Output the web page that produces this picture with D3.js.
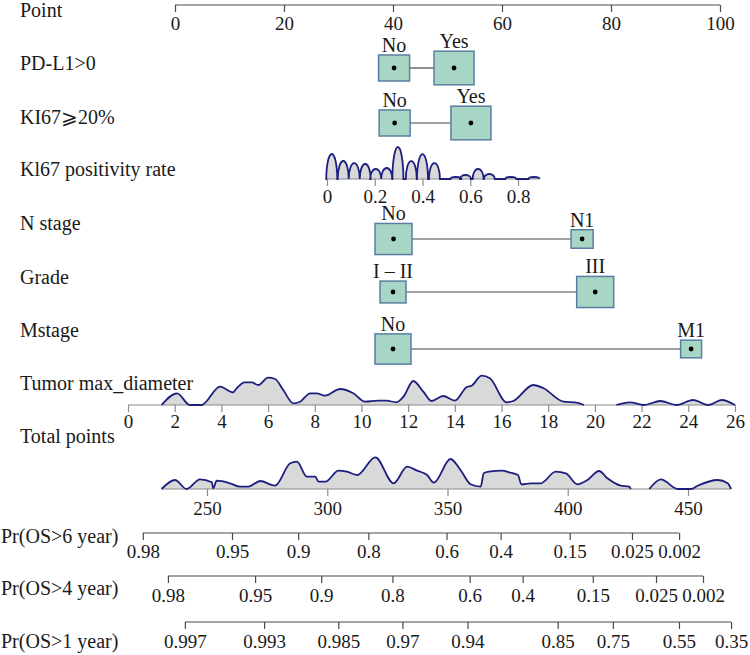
<!DOCTYPE html>
<html>
<head>
<meta charset="utf-8">
<script src="https://cdn.jsdelivr.net/npm/d3@7"></script>
<style>
  html, body { margin: 0; padding: 0; background: #ffffff; }
  svg { display: block; }
  svg text { font-family: "Liberation Serif", "Times New Roman", Tinos, Times, "Nimbus Roman", "DejaVu Serif", serif !important; fill: #1a1a1a; }
</style>
</head>
<body>
<svg id="chart" width="750" height="655"></svg>
<script>
// ---------------- DATA ----------------
const pointTicks = [0, 20, 40, 60, 80, 100];

// categorical predictors: level labels, points, relative frequency (box size)
const pdl1Levels = ["No", "Yes"];
const pdl1Points = [40.2, 51.2];
const pdl1Freq   = [0.375, 0.625];

const ki67CatLevels = ["No", "Yes"];
const ki67CatPoints = [40.3, 54.3];
const ki67CatFreq   = [0.375, 0.625];

const nLevels = ["No", "N1"];
const nPoints = [40.1, 74.7];
const nFreq   = [0.535, 0.189];

const gradeLevels = ["I – II", "III"];
const gradePoints = [40.0, 77.1];
const gradeFreq   = [0.264, 0.535];

const mLevels = ["No", "M1"];
const mPoints = [40.0, 94.7];
const mFreq   = [0.506, 0.172];

// Ki67 positivity rate: axis ticks and density humps (centre value, relative height)
const ki67Ticks   = [0, 0.2, 0.4, 0.6, 0.8];
const ki67Centers = [0.02, 0.068, 0.114, 0.16, 0.204, 0.25, 0.297, 0.353, 0.40, 0.45, 0.54, 0.58, 0.633, 0.68, 0.77, 0.867];
const ki67Heights = [25, 18, 16, 15, 10, 11, 32, 18, 25, 16, 2, 4, 10, 5, 2, 2];

// Tumor max diameter: axis ticks and density outline (value, relative height)
const tumorTicks = [0, 2, 4, 6, 8, 10, 12, 14, 16, 18, 20, 22, 24, 26];
const tumorDensityA = [
  [1.44, 0], [2.1, 11.7], [2.65, 0], [3.15, 0], [3.94, 18.3], [4.5, 12.7], [4.65, 16.7],
  [5.0, 22.7], [5.3, 22.7], [5.58, 20], [6.0, 27.3], [6.3, 26], [6.65, 15], [7.08, 1.7],
  [7.37, 3.3], [7.8, 11.7], [8.08, 11.7], [8.44, 9.3], [9.08, 16], [9.65, 11.7], [10.15, 3.3],
  [10.72, 4.3], [11.08, 4.3], [11.5, 2.7], [11.8, 8.3], [12.22, 24], [12.65, 13.3], [13.0, 4],
  [13.5, 9], [14.0, 4.3], [14.5, 17.7], [14.72, 19.3], [15.15, 29.3], [15.5, 26.7],
  [16.22, 2.7], [16.5, 4], [17.36, 20], [17.8, 16.7], [18.65, 3.3], [19.22, 2.3], [19.53, 0]
];
const tumorDensityB = [
  [20.92, 0], [21.5, 2.7], [22.1, 0], [22.8, 4], [23.5, 0], [24.2, 5], [24.86, 0], [25.43, 5], [26.0, 0]
];

// Total points: axis ticks and density outline (total points, relative height)
const totalTicks = [250, 300, 350, 400, 450];
const totalDensityA = [
  [231.1, 0], [236.7, 9], [241.5, 0], [247.1, 9.7], [252.0, 6.7], [252.6, 0.7], [254.0, 8.3],
  [259.6, 5.7], [263.75, 2.3], [267.2, 2.3], [272.1, 8], [278.3, 3.3], [284.6, 25.7],
  [287.4, 27.3], [291.5, 12.3], [295.0, 12.3], [296.4, 7.3], [299.2, 7.3], [304.7, 18.3],
  [308.2, 17.3], [312.4, 14], [320.0, 31.7], [327.6, 5.7], [333.2, 22.3], [337.4, 18.3],
  [341.5, 14], [344.3, 6.3], [351.25, 30], [355.4, 19], [359.6, 4.7], [363.75, 2.3],
  [365.1, 15.7], [367.2, 17.3], [372.8, 18.3], [375.5, 16.7], [379.3, 14], [380.7, 4.7],
  [384.6, 5.7], [388.75, 5.7], [395.0, 17.3], [399.2, 15.7], [404.0, 4.7], [408.2, 9],
  [413.0, 18], [416.5, 10.7], [422.0, 3.3], [425.5, 2.3], [426.25, 0]
];
const totalDensityB = [
  [433.9, 0], [438.75, 9.7], [445.7, 0], [451.25, 0], [454.0, 3.3], [462.4, 9], [466.5, 5.7], [467.9, 0]
];

// Survival probability scales: label and matching total points
const os6Labels = ["0.98", "0.95", "0.9", "0.8", "0.6", "0.4", "0.15", "0.025", "0.002"];
const os6Points = [223.3, 260.4, 287.9, 317.1, 349.6, 372.1, 400.8, 426.7, 446.3];
const os4Labels = ["0.98", "0.95", "0.9", "0.8", "0.6", "0.4", "0.15", "0.025", "0.002"];
const os4Points = [233.75, 270.0, 297.5, 327.1, 359.2, 381.25, 410.4, 436.7, 456.25];
const os1Labels = ["0.997", "0.993", "0.985", "0.97", "0.94", "0.85", "0.75", "0.55", "0.35"];
const os1Points = [240.8, 273.75, 304.6, 331.25, 358.3, 395.8, 418.75, 446.25, 467.9];

// ---------------- LAYOUT / STYLE ----------------
const FS = 20;      // row labels
const TFS = 19;     // tick / level labels
const svg = d3.select("#chart");
const pointX = d3.scaleLinear().domain([0, 100]).range([175, 720]);
const ki67X  = d3.scaleLinear().domain([0, 0.8]).range([327, 518]);
const tumorX = d3.scaleLinear().domain([0, 26]).range([128, 735]);
const totalX = d3.scaleLinear().domain([250, 450]).range([207, 688]);
const densY  = d3.scaleLinear().domain([0, 32]).range([0, 32]);
const boxW   = d3.scaleSqrt().domain([0, 1]).range([0, 50.6]);

const boxFill = "#a7d6c5", boxStroke = "#5a7ea3";
const densFill = "#d9d9d9", densStroke = "#1c1f7e";
const axisDark = "#4a4a4a", axisGrey = "#8c8c8c";

// Row labels
const rowLabels = [
  ["Point", 20, 17], ["PD-L1>0", 20, 70], ["KI67⩾20%", 20, 124],
  ["Kl67 positivity rate", 20, 176], ["N stage", 20, 230], ["Grade", 20, 284],
  ["Mstage", 20, 337], ["Tumor max_diameter", 20, 390], ["Total points", 20, 443],
  ["Pr(OS>6 year)", 1, 543], ["Pr(OS>4 year)", 1, 595], ["Pr(OS>1 year)", 1, 648]
];
svg.append("g").selectAll("text").data(rowLabels).join("text")
  .attr("x", d => d[1]).attr("y", d => d[2])
  .attr("font-size", FS).text(d => d[0]);

// generic axis helper
function drawAxis(scale, y, tickVals, fmt, color, labelOffset, lineExtent) {
  const g = svg.append("g").attr("transform", `translate(0,${y})`);
  const ax = d3.axisBottom(scale).tickValues(tickVals).tickSizeOuter(0).tickSizeInner(7)
    .tickFormat(fmt);
  g.call(ax);
  g.attr("font-family", null).attr("font-size", null);
  g.select(".domain").remove();
  const ext = lineExtent || [scale(tickVals[0]), scale(tickVals[tickVals.length - 1])];
  g.insert("line", ":first-child").attr("x1", ext[0]).attr("x2", ext[1])
    .attr("y1", 0).attr("y2", 0).attr("stroke", color).attr("stroke-width", 1.2);
  g.selectAll(".tick line").attr("stroke", color).attr("stroke-width", 1.2);
  g.selectAll(".tick text").attr("font-size", TFS)
    .attr("fill", "#1a1a1a").attr("y", labelOffset).attr("dy", 0);
  return g;
}

// Point axis
drawAxis(pointX, 5, pointTicks, d => d, axisDark, 25);

// categorical rows
function catRow(levels, pts, freq, yc) {
  const g = svg.append("g");
  const data = levels.map((l, i) => ({ l, x: pointX(pts[i]), w: boxW(freq[i]) }));
  g.append("line").attr("x1", data[0].x + data[0].w / 2).attr("x2", data[1].x - data[1].w / 2)
    .attr("y1", yc).attr("y2", yc).attr("stroke", "#444").attr("stroke-width", 1.2);
  g.selectAll("rect").data(data).join("rect")
    .attr("x", d => d.x - d.w / 2).attr("y", d => yc - d.w * 0.84 / 2)
    .attr("width", d => d.w).attr("height", d => d.w * 0.84)
    .attr("fill", boxFill).attr("stroke", boxStroke).attr("stroke-width", 1.5);
  g.selectAll("circle").data(data).join("circle")
    .attr("cx", d => d.x).attr("cy", yc).attr("r", 2.4).attr("fill", "#000");
  g.selectAll("text").data(data).join("text")
    .attr("x", d => d.x).attr("y", d => yc - d.w * 0.84 / 2 - 3)
    .attr("text-anchor", "middle").attr("font-size", FS).text(d => d.l);
}
catRow(pdl1Levels, pdl1Points, pdl1Freq, 68);
catRow(ki67CatLevels, ki67CatPoints, ki67CatFreq, 123);
catRow(nLevels, nPoints, nFreq, 239);
catRow(gradeLevels, gradePoints, gradeFreq, 292);
catRow(mLevels, mPoints, mFreq, 349);

// Ki67 positivity density (semi-elliptic humps) + axis
(function () {
  const base = 179, half = 0.023;
  let d = `M${ki67X(0)},${base}`;
  ki67Centers.forEach((c, i) => {
    const x0 = ki67X(c - half), x1 = ki67X(c + half);
    const rx = (x1 - x0) / 2, ry = densY(ki67Heights[i]);
    d += ` L${x0},${base} A${rx},${ry} 0 0 1 ${x1},${base}`;
  });
  d += ` L${ki67X(0.89)},${base}`;
  svg.append("path").attr("d", d + " Z").attr("fill", densFill).attr("stroke", "none");
  drawAxis(ki67X, base, ki67Ticks, d3.format("~g"), axisGrey, 24, [ki67X(0), ki67X(0.89)]);
  svg.append("path").attr("d", d).attr("fill", "none").attr("stroke", densStroke)
    .attr("stroke-width", 1.8);
})();

// continuous density helper
function densityRow(scale, base, segments) {
  const area = d3.area().x(p => scale(p[0])).y0(base).y1(p => base - densY(p[1]))
    .curve(d3.curveMonotoneX);
  const line = d3.line().x(p => scale(p[0])).y(p => base - densY(p[1])).curve(d3.curveMonotoneX);
  segments.forEach(s => svg.append("path").attr("d", area(s)).attr("fill", densFill));
  return () => segments.forEach(s => svg.append("path").attr("d", line(s)).attr("fill", "none")
    .attr("stroke", densStroke).attr("stroke-width", 1.8));
}

// Tumor max diameter
{
  const base = 405;
  const top = densityRow(tumorX, base, [tumorDensityA, tumorDensityB]);
  drawAxis(tumorX, base, tumorTicks, d => d, axisGrey, 23);
  top();
}

// Total points
{
  const base = 489;
  const top = densityRow(totalX, base, [totalDensityA, totalDensityB]);
  drawAxis(totalX, base, totalTicks, d => d, axisGrey, 26, [totalX(231.1), totalX(467.9)]);
  top();
}

// Probability axes
function probAxis(labels, pts, y, off) {
  drawAxis(totalX, y, pts, (d, i) => labels[i], axisDark, off);
}
probAxis(os6Labels, os6Points, 533, 25);
probAxis(os4Labels, os4Points, 576, 26);
probAxis(os1Labels, os1Points, 622, 26);
</script>
</body>
</html>
